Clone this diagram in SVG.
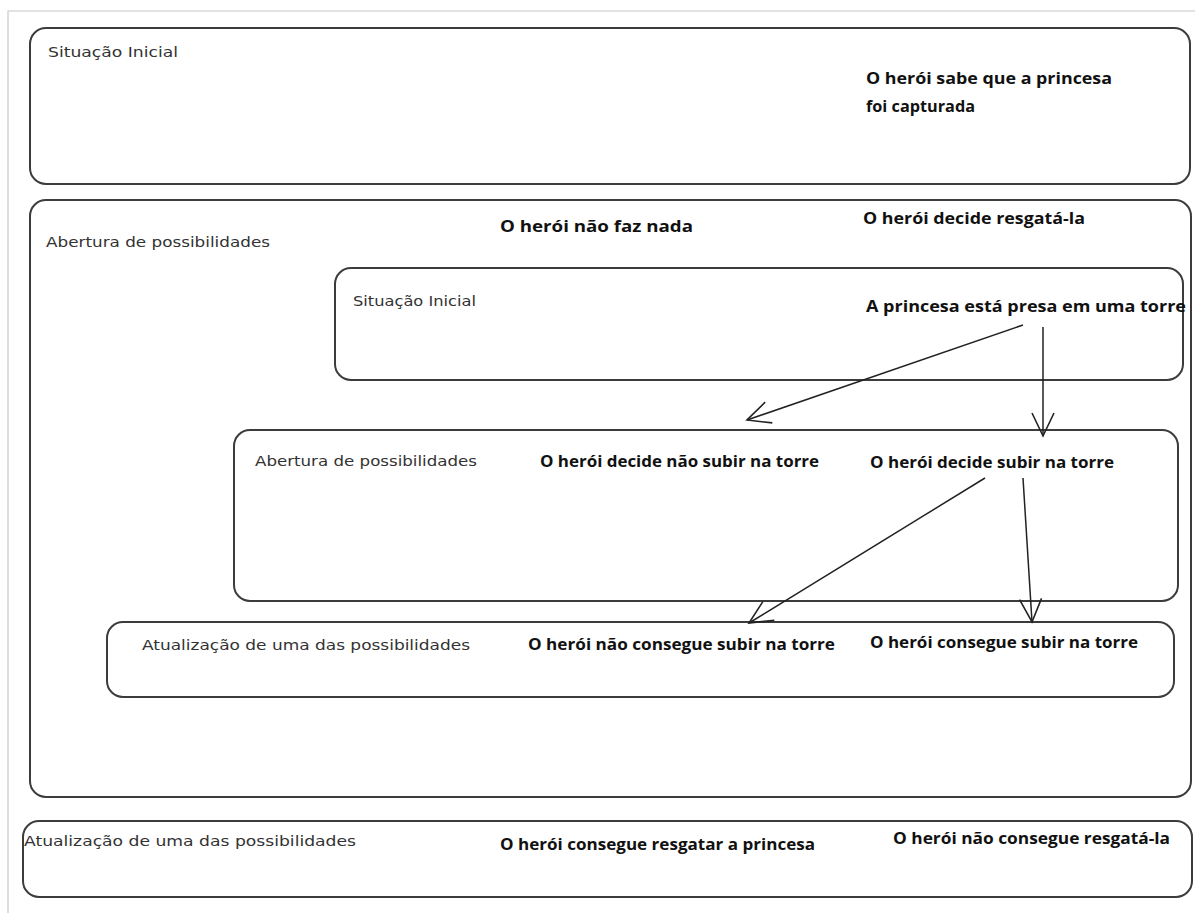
<svg xmlns="http://www.w3.org/2000/svg" width="1195" height="913" viewBox="0 0 1195 913">
<style>
.box{fill:#fff;stroke:#3c3c3c;stroke-width:2}
.lbl{font-family:"DejaVu Sans","Liberation Sans",sans-serif;font-size:14px;fill:#333}
.txt{font-family:"Open Sans","Liberation Sans",sans-serif;font-size:16px;font-weight:bold;fill:#111}
.conn{stroke:#222;stroke-width:1.5;fill:none}
</style>
<defs>
<marker id="vhead" markerUnits="userSpaceOnUse" markerWidth="30" markerHeight="30" viewBox="-26 -15 30 30" refX="0" refY="0" orient="auto">
<path d="M-23,-11 L0,0 L-23,11" fill="none" stroke="#222" stroke-width="1.6"/>
</marker>
</defs>
<rect width="1195" height="913" fill="#fff"/>
<path d="M8,913 V11 H1195" fill="none" stroke="#c8c8c8" stroke-width="1.2"/>
<g id="n1">
<rect class="box" x="30" y="28" width="1160" height="156" rx="16"/>
<text class="lbl" x="48" y="57" textLength="130" lengthAdjust="spacingAndGlyphs">Situação Inicial</text>
<text class="txt" x="866" y="84" textLength="246" lengthAdjust="spacingAndGlyphs">O herói sabe que a princesa</text>
<text class="txt" x="866" y="112" textLength="109" lengthAdjust="spacingAndGlyphs">foi capturada</text>
</g>
<g id="n2">
<rect class="box" x="30" y="200" width="1161" height="597" rx="16"/>
<text class="lbl" x="46" y="247" textLength="224" lengthAdjust="spacingAndGlyphs">Abertura de possibilidades</text>
<text class="txt" x="500" y="232" textLength="193" lengthAdjust="spacingAndGlyphs">O herói não faz nada</text>
<text class="txt" x="863" y="224" textLength="222" lengthAdjust="spacingAndGlyphs">O herói decide resgatá-la</text>
</g>
<g id="n3">
<rect class="box" x="335" y="268" width="848" height="112" rx="16"/>
<text class="lbl" x="353" y="306" textLength="123" lengthAdjust="spacingAndGlyphs">Situação Inicial</text>
<text class="txt" x="866" y="312" textLength="320" lengthAdjust="spacingAndGlyphs">A princesa está presa em uma torre</text>
</g>
<g id="n4">
<rect class="box" x="234" y="430" width="944" height="171" rx="16"/>
<text class="lbl" x="255" y="466" textLength="222" lengthAdjust="spacingAndGlyphs">Abertura de possibilidades</text>
<text class="txt" x="540" y="467" textLength="279" lengthAdjust="spacingAndGlyphs">O herói decide não subir na torre</text>
<text class="txt" x="870" y="468" textLength="244" lengthAdjust="spacingAndGlyphs">O herói decide subir na torre</text>
</g>
<g id="n5">
<rect class="box" x="107" y="622" width="1067" height="75" rx="16"/>
<text class="lbl" x="142" y="650" textLength="328" lengthAdjust="spacingAndGlyphs">Atualização de uma das possibilidades</text>
<text class="txt" x="528" y="650" textLength="307" lengthAdjust="spacingAndGlyphs">O herói não consegue subir na torre</text>
<text class="txt" x="870" y="648" textLength="268" lengthAdjust="spacingAndGlyphs">O herói consegue subir na torre</text>
</g>
<g id="n6">
<rect class="box" x="23" y="821" width="1169" height="76" rx="16"/>
<text class="lbl" x="24" y="846" textLength="332" lengthAdjust="spacingAndGlyphs">Atualização de uma das possibilidades</text>
<text class="txt" x="500" y="850" textLength="315" lengthAdjust="spacingAndGlyphs">O herói consegue resgatar a princesa</text>
<text class="txt" x="893" y="844" textLength="277" lengthAdjust="spacingAndGlyphs">O herói não consegue resgatá-la</text>
</g>
<g id="connectors">
<line class="conn" x1="1023" y1="325" x2="747" y2="420" marker-end="url(#vhead)"/>
<line class="conn" x1="1043" y1="327" x2="1043" y2="436" marker-end="url(#vhead)"/>
<line class="conn" x1="985" y1="478" x2="749" y2="623" marker-end="url(#vhead)"/>
<line class="conn" x1="1023" y1="478" x2="1032" y2="622" marker-end="url(#vhead)"/>
</g>
</svg>
